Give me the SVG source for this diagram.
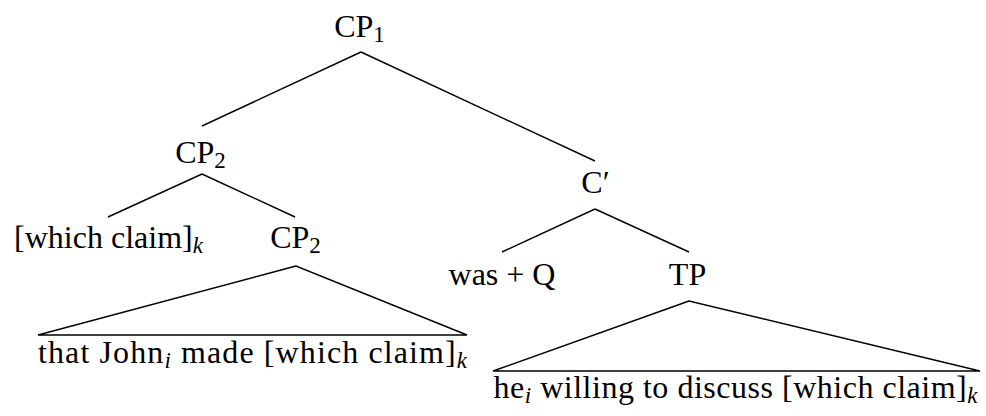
<svg xmlns="http://www.w3.org/2000/svg" width="986" height="416" viewBox="0 0 986 416">
<style>
.t{font-size:32px;fill:#000;text-anchor:middle}
.sub{font-size:23px}
.it{font-style:italic}
.e{stroke:#000;stroke-width:1.4;fill:none;stroke-linejoin:miter}
</style>
<rect width="986" height="416" fill="#fff"/>
<g id="connectors">
<line class="e" x1="361" y1="52" x2="202" y2="126"/>
<line class="e" x1="361" y1="52" x2="595" y2="161"/>
<line class="e" x1="202" y1="174" x2="108" y2="217"/>
<line class="e" x1="202" y1="174" x2="295" y2="217"/>
<line class="e" x1="595" y1="209" x2="502" y2="252"/>
<line class="e" x1="595" y1="209" x2="689" y2="252"/>
<polygon class="e" points="296,266 38,335 467,335"/>
<polygon class="e" points="689,301 493,371 980,371"/>
</g>
<g font-family="Liberation Serif, Times New Roman, Tinos, DejaVu Serif, Noto Serif, serif">
<g id="cp1"><text class="t" x="359.5" y="37">CP<tspan class="sub" dy="5">1</tspan></text></g>
<g id="cp2a"><text class="t" x="200.5" y="163">CP<tspan class="sub" dy="5">2</tspan></text></g>
<g id="whichclaim"><text class="t" x="108.5" y="248">[which claim]<tspan class="sub it" dy="5">k</tspan></text></g>
<g id="cp2b"><text class="t" x="295.5" y="248">CP<tspan class="sub" dy="5">2</tspan></text></g>
<g id="cp2b-yield"><text class="t" x="252.5" y="363" textLength="429" lengthAdjust="spacing">that John<tspan class="sub it" dy="5">i</tspan><tspan dy="-5"> made [which claim]</tspan><tspan class="sub it" dy="5">k</tspan></text></g>
<g id="cbar"><text class="t" x="595.5" y="193">C′</text></g>
<g id="wasq"><text class="t" x="502" y="285">was + Q</text></g>
<g id="tp"><text class="t" x="687.5" y="285">TP</text></g>
<g id="tp-yield"><text class="t" x="735.5" y="398" textLength="484" lengthAdjust="spacing">he<tspan class="sub it" dy="5">i</tspan><tspan dy="-5"> willing to discuss [which claim]</tspan><tspan class="sub it" dy="5">k</tspan></text></g>
</g>
</svg>
